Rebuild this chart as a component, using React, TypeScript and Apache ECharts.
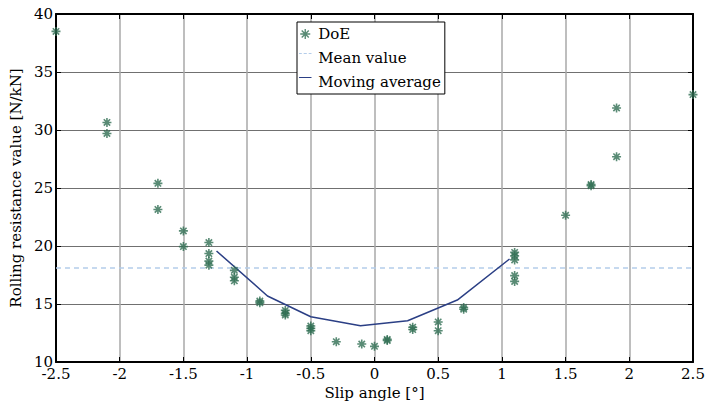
import React, { useEffect, useRef } from "react";
import * as echarts from "echarts";

const doeX = [
  -2.5, -2.1, -2.1, -1.7, -1.7, -1.5, -1.5, -1.3, -1.3, -1.3, -1.3, -1.1, -1.1, -1.1,
  -0.9, -0.9, -0.7, -0.7, -0.7, -0.5, -0.5, -0.5, -0.3, -0.1, 0, 0.1, 0.1, 0.3, 0.3,
  0.5, 0.5, 0.7, 0.7, 1.1, 1.1, 1.1, 1.1, 1.1, 1.5, 1.7, 1.7, 1.9, 1.9, 2.5,
];
const doeY = [
  38.5, 30.65, 29.7, 25.4, 23.15, 21.3, 19.95, 20.3, 19.35, 18.7, 18.35, 17.9, 17.3, 17.0,
  15.25, 15.1, 14.45, 14.05, 14.2, 13.1, 12.9, 12.7, 11.75, 11.55, 11.35, 11.95, 11.85, 13.0, 12.8,
  13.45, 12.7, 14.7, 14.55, 19.45, 19.15, 18.8, 17.45, 16.95, 22.65, 25.3, 25.2, 31.9, 27.7, 33.05,
];
const maX = [-1.24, -0.84, -0.5, -0.11, 0.26, 0.65, 1.06];
const maY = [19.57, 15.69, 13.9, 13.13, 13.56, 15.34, 18.88];
const meanValue = 18.1;
const xRange = [-2.5, 2.5];
const yRange = [10, 40];
const seriesNames = ["DoE", "Mean value", "Moving average"];
const xTitle = "Slip angle [°]";
const yTitle = "Rolling resistance value [N/kN]";

const FONT = "DejaVu Serif";
const STAR = "path://M0,-10L0,10M-10,0L10,0M-7.07,-7.07L7.07,7.07M-7.07,7.07L7.07,-7.07";
const ICON_SOLID = "path://M0,-8h20v1.6h-20zM0,8h0.01v0.01h-0.01z";
const ICON_DASH = "path://M0,-8h4.5v1.6h-4.5zM7.5,-8h5v1.6h-5zM15.5,-8h4.5v1.6h-4.5zM0,8h0.01v0.01h-0.01z";

const GREEN = "#2f6e52";
const NAVY = "#2b3f85";
const LIGHT = "#b4cdea";

export default function App() {
  const ref = useRef<HTMLDivElement>(null);
  useEffect(() => {
    if (!ref.current) return;
    const chart = echarts.init(ref.current, null, { renderer: "svg" });
    const frameLine = { show: true, onZero: false, lineStyle: { color: "#000", width: 2 } };
    const tick = { show: true, inside: true, length: 5, lineStyle: { color: "#000", width: 1 } };
    const label = { fontFamily: FONT, fontSize: 15, color: "#000" };
    chart.setOption({
      animation: false,
      backgroundColor: "#fff",
      grid: { left: 50, right: 15, top: 14, bottom: 44, containLabel: false },
      legend: {
        orient: "vertical",
        left: 297,
        top: 22,
        data: [
          { name: seriesNames[0], icon: STAR, itemStyle: { color: GREEN, borderColor: GREEN, borderWidth: 1.4 } },
          { name: seriesNames[1], icon: ICON_DASH, itemStyle: { color: LIGHT, borderWidth: 0 } },
          { name: seriesNames[2], icon: ICON_SOLID, itemStyle: { color: NAVY, borderWidth: 0 } },
        ],
        backgroundColor: "#fff",
        borderColor: "#000",
        borderWidth: 1,
        borderRadius: 0,
        padding: [2, 4, 2, 2],
        itemGap: 4,
        itemWidth: 16,
        itemHeight: 10,
        textStyle: { fontFamily: FONT, fontSize: 15, color: "#000", lineHeight: 20 },
      },
      xAxis: [
        {
          type: "value",
          min: xRange[0],
          max: xRange[1],
          interval: 0.5,
          position: "bottom",
          axisLine: frameLine,
          axisTick: tick,
          axisLabel: { ...label, margin: 4 },
          splitLine: { show: true, lineStyle: { color: "#a8a8a8", width: 1.5 } },
          name: xTitle,
          nameLocation: "middle",
          nameGap: 22,
          nameTextStyle: { fontFamily: FONT, fontSize: 15, color: "#000" },
        },
        {
          type: "value",
          min: xRange[0],
          max: xRange[1],
          interval: 0.5,
          position: "top",
          axisLine: frameLine,
          axisTick: tick,
          axisLabel: { show: false },
          splitLine: { show: false },
        },
      ],
      yAxis: [
        {
          type: "value",
          min: yRange[0],
          max: yRange[1],
          interval: 5,
          position: "left",
          axisLine: frameLine,
          axisTick: tick,
          axisLabel: { ...label, margin: 3 },
          splitLine: { show: true, lineStyle: { color: "#707070", width: 1 } },
          name: yTitle,
          nameLocation: "middle",
          nameGap: 26,
          nameTextStyle: { fontFamily: FONT, fontSize: 15, color: "#000" },
        },
        {
          type: "value",
          min: yRange[0],
          max: yRange[1],
          interval: 5,
          position: "right",
          axisLine: frameLine,
          axisTick: tick,
          axisLabel: { show: false },
          splitLine: { show: false },
        },
      ],
      series: [
        {
          name: seriesNames[0],
          type: "scatter",
          xAxisIndex: 0,
          yAxisIndex: 0,
          symbol: STAR,
          symbolSize: 9,
          itemStyle: { color: GREEN, borderColor: GREEN, borderWidth: 1.6 },
          data: doeX.map((x, i) => [x, doeY[i]]),
          z: 5,
        },
        {
          name: seriesNames[1],
          type: "line",
          xAxisIndex: 0,
          yAxisIndex: 0,
          symbol: "none",
          lineStyle: { color: LIGHT, width: 1.5, type: [5, 4] },
          itemStyle: { color: LIGHT },
          data: [
            [xRange[0], meanValue],
            [xRange[1], meanValue],
          ],
          z: 3,
        },
        {
          name: seriesNames[2],
          type: "line",
          xAxisIndex: 0,
          yAxisIndex: 0,
          symbol: "none",
          lineStyle: { color: NAVY, width: 1.5 },
          itemStyle: { color: NAVY },
          data: maX.map((x, i) => [x, maY[i]]),
          z: 4,
        },
      ],
    });
    return () => chart.dispose();
  }, []);
  return (
    <div
      ref={ref}
      style={{ position: "fixed", left: 0, top: 0, width: 708, height: 406, background: "#fff" }}
    />
  );
}
